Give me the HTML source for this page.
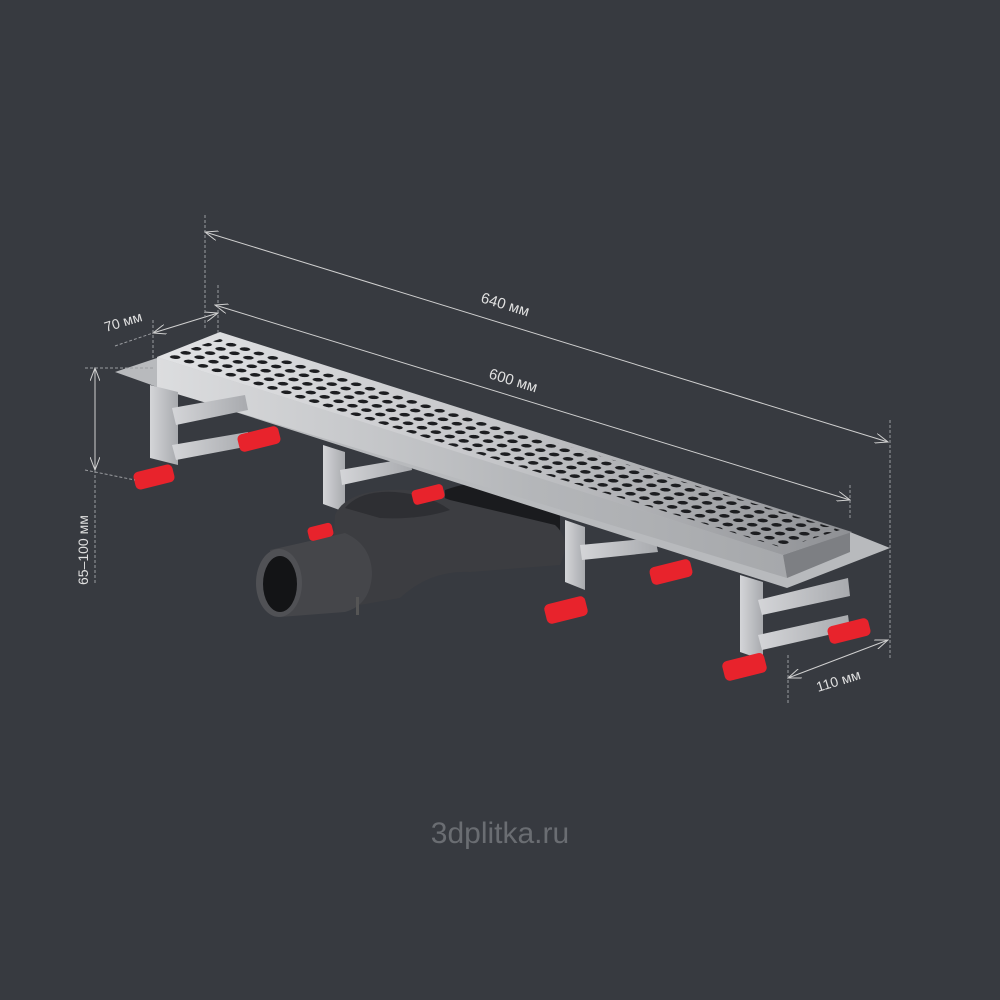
<!DOCTYPE html>
<html><head><style>
html,body{margin:0;padding:0;background:#373a40;}
svg{display:block}
text{font-family:"Liberation Sans",sans-serif;fill:#e0e0e0}
</style></head><body>
<svg width="1000" height="1000" viewBox="0 0 1000 1000" xmlns="http://www.w3.org/2000/svg">
<defs>
<pattern id="holes" width="1" height="1" patternUnits="userSpaceOnUse" patternTransform="matrix(13.9,4.4,10.5,-4.2,163,357)">
<circle cx="0.5" cy="0.5" r="0.3" fill="#1c1d20"/>
</pattern>
<linearGradient id="top" x1="0" y1="0" x2="1" y2="0">
<stop offset="0" stop-color="#e2e3e5"/><stop offset="0.5" stop-color="#c4c5c8"/><stop offset="1" stop-color="#8e9094"/>
</linearGradient>
<linearGradient id="side" x1="0" y1="0" x2="1" y2="0">
<stop offset="0" stop-color="#dcdddf"/><stop offset="0.6" stop-color="#b4b6b9"/><stop offset="1" stop-color="#a6a8ab"/>
</linearGradient>
<linearGradient id="leg" x1="0" y1="0" x2="1" y2="0">
<stop offset="0" stop-color="#d4d5d8"/><stop offset="1" stop-color="#a8aaae"/>
</linearGradient>
<marker id="ar" markerWidth="14" markerHeight="10" refX="13" refY="5" orient="auto" markerUnits="userSpaceOnUse">
<path d="M0,0 L13,5 L0,10" fill="none" stroke="#d0d0d0" stroke-width="1"/>
</marker>
<marker id="al" markerWidth="14" markerHeight="10" refX="1" refY="5" orient="auto" markerUnits="userSpaceOnUse">
<path d="M14,0 L1,5 L14,10" fill="none" stroke="#d0d0d0" stroke-width="1"/>
</marker>
</defs>
<rect width="1000" height="1000" fill="#373a40"/>

<!-- back legs -->
<g fill="url(#leg)">
<polygon points="323,445 345,452 345,512 323,504"/>
<polygon points="340,470 410,458 412,470 342,485"/>
<polygon points="565,520 585,527 585,590 565,582"/>
<polygon points="580,545 655,538 658,552 582,560"/>
</g>
<!-- drain cylinder -->
<path d="M445,490 Q500,470 560,500 L560,560 Q500,575 445,550 Z" fill="#1a1b1e"/>
<!-- siphon -->
<path d="M335,515 Q345,492 390,490 Q420,488 450,500 L555,525 Q572,540 560,565 L470,572 Q430,570 400,598 L360,605 L332,570 Z" fill="#3c3d41"/>
<path d="M345,508 Q360,490 395,492 Q430,495 450,510 Q420,520 380,518 Z" fill="#2e2f33"/>
<path d="M270,550 L345,533 Q372,545 372,575 Q370,605 345,612 L280,617 Z" fill="#45464a"/>
<ellipse cx="279" cy="583" rx="23" ry="34" fill="#505155"/>
<ellipse cx="280" cy="584" rx="17" ry="28" fill="#131416"/>
<rect x="356" y="597" width="3" height="18" fill="#555"/>

<!-- plate -->
<polygon points="115,372 160,357 850,532 890,548 787,588 160,388" fill="#b8babd"/>
<!-- front side face -->
<polygon points="157,357 783,555 787,578 157,388" fill="url(#side)"/>
<!-- right end face -->
<polygon points="783,555 850,532 850,552 787,578" fill="#7d7f83"/>
<!-- grate top -->
<polygon points="157,357 220,332 852,532 783,555" fill="url(#top)"/>
<polygon points="165,357 220,339 840,530 783,548" fill="url(#holes)"/>
<!-- front legs -->
<g fill="url(#leg)">
<polygon points="150,385 178,392 178,465 150,458"/>
<polygon points="172,408 245,395 248,410 176,425"/>
<polygon points="172,445 248,432 250,446 176,460"/>
<polygon points="740,575 763,582 763,660 740,652"/>
<polygon points="758,600 848,578 850,596 762,615"/>
<polygon points="758,635 848,615 850,630 762,650"/>
</g>
<!-- red feet -->
<g fill="#e8232c">
<rect x="134" y="468" width="40" height="18" rx="5" transform="rotate(-14 154 477)"/>
<rect x="238" y="430" width="42" height="18" rx="5" transform="rotate(-14 259 439)"/>
<rect x="545" y="600" width="42" height="20" rx="5" transform="rotate(-14 566 610)"/>
<rect x="650" y="563" width="42" height="18" rx="5" transform="rotate(-14 671 572)"/>
<rect x="723" y="657" width="43" height="20" rx="5" transform="rotate(-14 744 667)"/>
<rect x="828" y="622" width="42" height="18" rx="5" transform="rotate(-14 849 631)"/>
<rect x="412" y="487" width="32" height="15" rx="4" transform="rotate(-14 428 494)"/>
<rect x="308" y="525" width="25" height="14" rx="4" transform="rotate(-14 320 532)"/>
</g>

<!-- dimension lines -->
<g stroke="#d0d0d0" stroke-width="1" fill="none">
<line x1="205" y1="232" x2="888" y2="442" marker-start="url(#al)" marker-end="url(#ar)"/>
<line x1="215" y1="305" x2="850" y2="500" marker-start="url(#al)" marker-end="url(#ar)"/>
<line x1="153" y1="333" x2="218" y2="313" marker-start="url(#al)" marker-end="url(#ar)"/>
<line x1="95" y1="368" x2="95" y2="470" marker-start="url(#al)" marker-end="url(#ar)"/>
<line x1="788" y1="678" x2="888" y2="640" marker-start="url(#al)" marker-end="url(#ar)"/>
</g>
<g stroke="#9a9ca0" stroke-width="1" fill="none" stroke-dasharray="3,2">
<line x1="205" y1="215" x2="205" y2="330"/>
<line x1="890" y1="420" x2="890" y2="560"/>
<line x1="218" y1="285" x2="218" y2="335"/>
<line x1="850" y1="485" x2="850" y2="520"/>
<line x1="115" y1="346" x2="153" y2="333"/>
<line x1="153" y1="320" x2="153" y2="358"/>
<line x1="85" y1="368" x2="155" y2="368"/>
<line x1="85" y1="470" x2="135" y2="480"/>
<line x1="95" y1="470" x2="95" y2="585"/>
<line x1="788" y1="655" x2="788" y2="705"/>
<line x1="890" y1="560" x2="890" y2="660"/>
</g>
<text x="0" y="0" font-size="15" transform="translate(480,302) rotate(17)">640 мм</text>
<text x="0" y="0" font-size="15" transform="translate(488,378) rotate(17)">600 мм</text>
<text x="0" y="0" font-size="14" transform="translate(106,332) rotate(-17)">70 мм</text>
<text x="0" y="0" font-size="14" transform="translate(88,585) rotate(-90)">65–100 мм</text>
<text x="0" y="0" font-size="14" transform="translate(818,692) rotate(-17)">110 мм</text>
<text x="500" y="843" font-size="30" text-anchor="middle" style="fill:#6a6d72">3dplitka.ru</text>
</svg>
</body></html>
